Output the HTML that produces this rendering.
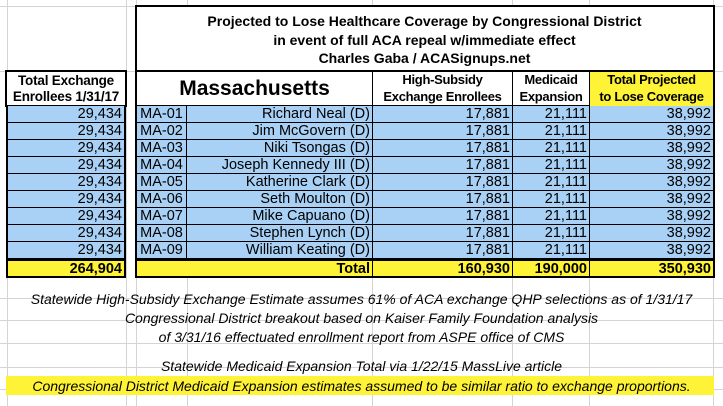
<!DOCTYPE html>
<html><head><style>
body{margin:0;width:723px;height:406px;background:#fff;position:relative;overflow:hidden;font-family:"Liberation Sans",Arial,sans-serif;}
.a{position:absolute;box-sizing:border-box;white-space:nowrap;}
.g{position:absolute;background:#d4d4d4;}
.c{position:absolute;box-sizing:border-box;font-size:14.5px;line-height:16px;white-space:nowrap;overflow:hidden;}
.r{text-align:right;padding-right:2px;}
.ctr{text-align:center;}
.b{font-weight:bold;}
.note{position:absolute;left:0;width:723px;text-align:center;font-style:italic;font-size:14px;line-height:18px;white-space:nowrap;}
</style></head><body>
<div class="g" style="left:7px;top:0;width:1px;height:406px"></div>
<div class="g" style="left:126px;top:0;width:1px;height:406px"></div>
<div class="g" style="left:136px;top:0;width:1px;height:406px"></div>
<div class="g" style="left:187px;top:0;width:1px;height:406px"></div>
<div class="g" style="left:372px;top:0;width:1px;height:406px"></div>
<div class="g" style="left:512px;top:0;width:1px;height:406px"></div>
<div class="g" style="left:589px;top:0;width:1px;height:406px"></div>
<div class="g" style="left:713px;top:0;width:1px;height:406px"></div>
<div class="g" style="left:0;top:6px;width:723px;height:1px"></div>
<div class="g" style="left:0;top:71px;width:723px;height:1px"></div>
<div class="g" style="left:0;top:298px;width:723px;height:1px"></div>
<div class="g" style="left:0;top:320px;width:723px;height:1px"></div>
<div class="g" style="left:0;top:343px;width:723px;height:1px"></div>
<div class="g" style="left:0;top:367px;width:723px;height:1px"></div>
<div class="g" style="left:0;top:389px;width:723px;height:1px"></div>

<div class="a" style="left:135px;top:5px;width:580px;height:67px;background:#fff;border:2px solid #000;"></div>
<div class="a b ctr" style="left:136px;top:12px;width:577px;font-size:14px;line-height:18.5px;">Projected to Lose Healthcare Coverage by Congressional District<br>in event of full ACA repeal w/immediate effect<br>Charles Gaba / ACASignups.net</div>

<div class="a b ctr" style="left:5px;top:70px;width:122px;height:37px;background:#fff;border:2px solid #000;font-size:13.5px;line-height:16px;padding-top:1px;letter-spacing:-0.2px;">Total Exchange<br>Enrollees 1/31/17</div>
<div class="a" style="left:135px;top:70px;width:580px;height:37px;background:#fff;border:2px solid #000;"></div>
<div class="a b ctr" style="left:137px;top:76px;width:235px;font-size:21px;line-height:26px;">Massachusetts</div>
<div class="a" style="left:372px;top:71px;width:1px;height:35px;background:#000"></div>
<div class="a" style="left:512px;top:71px;width:1px;height:35px;background:#000"></div>
<div class="a" style="left:589px;top:71px;width:1px;height:35px;background:#000"></div>
<div class="a b ctr" style="left:373px;top:72px;width:139px;font-size:13px;line-height:16.5px;letter-spacing:-0.3px;">High-Subsidy<br>Exchange Enrollees</div>
<div class="a b ctr" style="left:513px;top:72px;width:76px;font-size:13px;line-height:16.5px;letter-spacing:-0.3px;">Medicaid<br>Expansion</div>
<div class="a b ctr" style="left:590px;top:72px;width:123px;height:34px;background:#fff338;font-size:13px;line-height:16.5px;letter-spacing:-0.3px;">Total Projected<br>to Lose Coverage</div>

<div id="rows"></div>
<script>
var names=["Richard Neal (D)","Jim McGovern (D)","Niki Tsongas (D)","Joseph Kennedy III (D)","Katherine Clark (D)","Seth Moulton (D)","Mike Capuano (D)","Stephen Lynch (D)","William Keating (D)"];
var h="";
for(var i=0;i<9;i++){var y=106+i*17;
h+='<div class="c r" style="left:6px;top:'+y+'px;width:120px;height:17px;background:#a9d0f5;border-bottom:1px solid #000;border-left:2px solid #000;border-right:2px solid #000;">29,434</div>';
h+='<div class="c ctr" style="left:135px;top:'+y+'px;width:52px;height:17px;background:#a9d0f5;border-bottom:1px solid #000;border-left:2px solid #000;border-right:1px solid #000;">MA-0'+(i+1)+'</div>';
h+='<div class="c r" style="left:187px;top:'+y+'px;width:186px;height:17px;background:#a9d0f5;border-bottom:1px solid #000;border-right:1px solid #000;">'+names[i]+'</div>';
h+='<div class="c r" style="left:373px;top:'+y+'px;width:140px;height:17px;background:#a9d0f5;border-bottom:1px solid #000;border-right:1px solid #000;">17,881</div>';
h+='<div class="c r" style="left:513px;top:'+y+'px;width:77px;height:17px;background:#a9d0f5;border-bottom:1px solid #000;border-right:1px solid #000;">21,111</div>';
h+='<div class="c r" style="left:590px;top:'+y+'px;width:125px;height:17px;background:#a9d0f5;border-bottom:1px solid #000;border-right:2px solid #000;">38,992</div>';
}
var y=259;
h+='<div class="c r b" style="left:6px;top:'+y+'px;width:120px;height:19px;background:#fff338;border:2px solid #000;">264,904</div>';
h+='<div class="c r b" style="left:135px;top:'+y+'px;width:238px;height:19px;background:#fff338;border:2px solid #000;border-right:1px solid #000;">Total</div>';
h+='<div class="c r b" style="left:373px;top:'+y+'px;width:140px;height:19px;background:#fff338;border-top:2px solid #000;border-bottom:2px solid #000;border-right:1px solid #000;">160,930</div>';
h+='<div class="c r b" style="left:513px;top:'+y+'px;width:77px;height:19px;background:#fff338;border-top:2px solid #000;border-bottom:2px solid #000;border-right:1px solid #000;">190,000</div>';
h+='<div class="c r b" style="left:590px;top:'+y+'px;width:125px;height:19px;background:#fff338;border:2px solid #000;border-left:none;">350,930</div>';
document.getElementById("rows").innerHTML=h;
</script>

<div class="note" style="top:290px;">Statewide High-Subsidy Exchange Estimate assumes 61% of ACA exchange QHP selections as of 1/31/17</div>
<div class="note" style="top:309px;">Congressional District breakout based on Kaiser Family Foundation analysis</div>
<div class="note" style="top:328px;">of 3/31/16 effectuated enrollment report from ASPE office of CMS</div>
<div class="note" style="top:357px;">Statewide Medicaid Expansion Total via 1/22/15 MassLive article</div>
<div class="a" style="left:6px;top:376px;width:708px;height:19px;background:#fff338;"></div>
<div class="note" style="top:377px;">Congressional District Medicaid Expansion estimates assumed to be similar ratio to exchange proportions.</div>
</body></html>
